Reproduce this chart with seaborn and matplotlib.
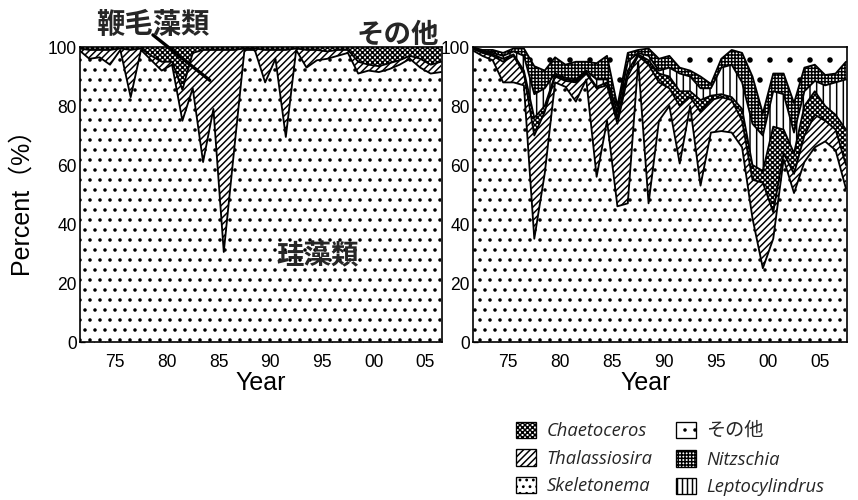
import numpy as np
import matplotlib
matplotlib.use("Agg")
import matplotlib.pyplot as plt
import seaborn as sns
from matplotlib.patches import Patch
from matplotlib.ticker import MultipleLocator, FixedLocator, FixedFormatter

# ---------------- data (percent composition, annual) ----------------
years_left = list(range(1971, 2007))
diatoms = [99, 96, 96.5, 94, 99, 83, 99, 95.5, 92, 94, 75, 86, 61, 79, 30.5, 65, 99, 99,
           88, 96, 69.5, 99, 93, 95.5, 96, 97, 98, 91, 92, 91.5, 92.5, 94, 96, 93, 91, 91.5]
flagellates = [0.5, 3, 2.5, 5, 0.5, 16, 0.5, 1.5, 3, 1, 10.5, 12, 38, 20, 68.5, 34, 0.5, 0.5,
               11, 3, 29.5, 0.5, 6, 3.5, 2.5, 2, 1, 4, 2, 2, 2, 1.5, 1, 3, 3, 3.5]
others_left = [0.5, 1, 1, 1, 0.5, 1, 0.5, 3, 5, 5, 14.5, 2, 1, 1, 1, 1, 0.5, 0.5,
               1, 1, 1, 0.5, 1, 1, 1.5, 1, 1, 5, 6, 6.5, 5.5, 4.5, 3, 4, 6, 5]

years_right = list(range(1971, 2008))
skeletonema = [99, 97, 95.5, 88, 88, 87, 35, 57, 88, 86.5, 81.5, 89, 56, 75, 46, 47, 95, 47, 75,
               80, 60.5, 80, 53, 71, 71.5, 71, 66, 42, 25, 35, 62, 50.5, 61, 66, 68, 65, 52]
thalassiosira = [0.5, 1, 1.5, 7, 9, 4, 35, 21, 2, 2, 6.5, 2, 30, 12, 28, 43, 2, 47, 13,
                 6, 19.5, 3, 25, 11, 11.5, 11, 9, 13, 29, 9, 2, 6.5, 9, 11, 7, 7, 8]
chaetoceros = [0.2, 0.5, 0.5, 1, 0.5, 1, 6, 2, 0.5, 0.5, 0.5, 0.5, 0.5, 1, 2, 2, 0.5, 1.5, 3,
               4, 5, 2, 4, 1.5, 1, 1, 4, 5, 4, 29, 8, 7, 10, 8, 5, 5, 12]
leptocylindrus = [0.1, 0.2, 0.5, 1, 1, 5, 8, 6, 0.5, 0.5, 0.5, 0.5, 2.5, 1, 2, 3, 0.5, 1.5, 1,
                  3, 6, 5, 4, 2.5, 9, 11, 9, 14, 12, 12, 12, 7, 5, 3.5, 7, 11, 17]
nitzschia = [0.2, 0.3, 1, 1, 1, 2.5, 9.5, 6, 5.5, 4.5, 6, 3, 5.5, 8, 2, 3, 1, 2.5, 4,
             4, 2, 2, 4, 1.5, 3, 5, 10, 16, 7.5, 6, 7, 10, 8, 5.5, 3.5, 3, 6]
others_right = [0, 1, 1, 2, 0.5, 0.5, 6.5, 8, 3.5, 6, 5, 5, 5.5, 3, 20, 2, 1, 0.5, 4,
                3, 7, 8, 10, 12.5, 4, 1, 2, 10, 22.5, 9, 9, 19, 7, 6, 9.5, 9, 5]

x_ticks = [75, 80, 85, 90, 95, 100, 105]
x_ticklabels = ["75", "80", "85", "90", "95", "00", "05"]
y_ticks = [0, 20, 40, 60, 80, 100]

# ---------------- style ----------------
sns.set_theme(style="white")
plt.rcParams['font.family'] = ['Liberation Sans', 'Noto Sans CJK JP']
plt.rcParams['hatch.linewidth'] = 0.9
plt.rcParams['axes.linewidth'] = 1.0
plt.rcParams['axes.edgecolor'] = 'black'

DPI = 120
W, H = 858, 500
fig = plt.figure(figsize=(W / DPI, H / DPI), dpi=DPI)
fig.patch.set_facecolor('white')


def fa(x0, y0, x1, y1):
    return [x0 / W, 1 - y1 / H, (x1 - x0) / W, (y1 - y0) / H]


axL = fig.add_axes(fa(80, 47, 442, 342))
axR = fig.add_axes(fa(473, 47, 847, 342))

STY = {
    'dots': dict(hatch='..', face='white', hc='black'),
    'diag': dict(hatch='//////', face='white', hc='black'),
    'cross': dict(hatch='xxxxxxxx', face='white', hc='black'),
    'vert': dict(hatch='|||', face='white', hc='black'),
    'grid': dict(hatch='++++++', face='white', hc='black'),
    'sparse': dict(hatch='.', face='white', hc='black'),
}


def stack(ax, years, layers):
    x = np.array(years) - 1900 + 0.5
    base = np.zeros(len(x))
    tops = []
    for vals, key in layers:
        s = STY[key]
        top = base + np.array(vals, dtype=float)
        ax.fill_between(x, base, top, facecolor=s['face'], edgecolor=s['hc'],
                        hatch=s['hatch'], linewidth=0, zorder=1)
        tops.append(top)
        base = top
    for top in tops[:-1]:
        sns.lineplot(x=x, y=top, ax=ax, color='black', linewidth=1.1,
                     estimator=None, sort=False, zorder=3)


stack(axL, years_left, [(diatoms, 'dots'), (flagellates, 'diag'), (others_left, 'cross')])
stack(axR, years_right, [(skeletonema, 'dots'), (thalassiosira, 'diag'),
                         (chaetoceros, 'cross'), (leptocylindrus, 'vert'),
                         (nitzschia, 'grid'), (others_right, 'sparse')])

axL.set_xlim(71.6, 106.6)
axR.set_xlim(71.6, 107.6)
for ax in (axL, axR):
    ax.set_ylim(0, 100)
    ax.xaxis.set_major_locator(FixedLocator(x_ticks))
    ax.xaxis.set_major_formatter(FixedFormatter(x_ticklabels))
    ax.xaxis.set_minor_locator(MultipleLocator(1))
    ax.yaxis.set_major_locator(FixedLocator(y_ticks))
    ax.tick_params(axis='both', which='major', direction='in', length=3, width=0.8,
                   labelsize=10.5, colors='black')
    ax.tick_params(axis='x', which='major', pad=7)
    ax.tick_params(axis='x', which='minor', direction='in', length=2, width=0.6, bottom=True)
    ax.tick_params(axis='y', which='major', left=True, pad=2)
    for sp in ax.spines.values():
        sp.set_visible(True)
        sp.set_color('black')
        sp.set_linewidth(1.0)
        sp.set_zorder(5)
    ax.set_xlabel('Year', fontsize=15, color='black')
    ax.set_ylabel('')

axL.xaxis.set_label_coords(0.5, -0.098)
axR.xaxis.set_label_coords(0.463, -0.098)
axL.set_ylabel('Percent（%）', fontsize=15, labelpad=9, color='black')

# annotations on left chart
axL.text(78.6, 107.5, '鞭毛藻類', fontsize=17, fontweight='bold', ha='center', va='center',
         family=['Noto Sans CJK JP'], clip_on=False, zorder=6)
axL.annotate('', xy=(84.4, 88), xytext=(78.4, 104.8),
             arrowprops=dict(arrowstyle='-', color='black', lw=2.0), annotation_clip=False,
             zorder=6)
axL.text(102.3, 104.0, 'その他', fontsize=16.5, fontweight='bold', ha='center', va='center',
         family=['Noto Sans CJK JP'], clip_on=False, zorder=6)
axL.text(94.6, 29, '珪藻類', fontsize=16.5, fontweight='bold', ha='center', va='center',
         family=['Noto Sans CJK JP'], zorder=6)

# legend
leg_items = [('Chaetoceros', 'cross'), ('Thalassiosira', 'diag'), ('Skeletonema', 'dots'),
             ('その他', 'sparse'), ('Nitzschia', 'grid'), ('Leptocylindrus', 'vert')]
leg_hatch = {'cross': 'xxxxxxxx', 'diag': '//////', 'dots': '...', 'sparse': '..',
             'grid': '++++++', 'vert': '||||'}
handles = [Patch(facecolor='white', edgecolor='black', hatch=leg_hatch[k],
                 linewidth=0.8) for _, k in leg_items]
labels = [n for n, _ in leg_items]
leg = fig.legend(handles, labels, ncol=2, loc='upper left',
                 bbox_to_anchor=(516 / W, 1 - 420 / H), frameon=False, fontsize=11,
                 handlelength=1.1, handleheight=1.0, handletextpad=0.55,
                 columnspacing=1.3, labelspacing=0.5, borderaxespad=0, borderpad=0)
for t in leg.get_texts():
    if t.get_text() == 'その他':
        t.set_fontfamily(['Noto Sans CJK JP'])
        t.set_fontsize(11.5)
    else:
        t.set_fontfamily(['Open Sans', 'Lato', 'DejaVu Sans'])
        t.set_fontstyle('italic')

fig.savefig('out.png', dpi=DPI, facecolor='white')
